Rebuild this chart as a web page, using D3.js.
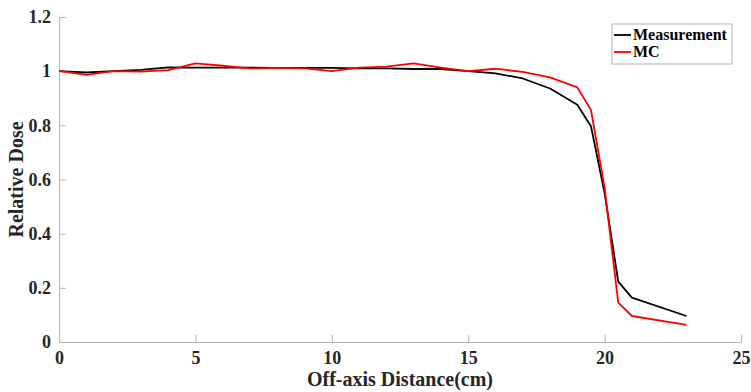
<!DOCTYPE html>
<html>
<head>
<meta charset="utf-8">
<script src="https://cdn.jsdelivr.net/npm/d3@7"></script>
<style>
  body { margin: 0; background: #fff; }
</style>
</head>
<body>
<div id="chart"></div>
<script>
// off-axis positions (cm)
const measX = [0, 1, 2, 3, 4, 5, 6, 7, 8, 9, 10, 11, 12, 13, 14, 15, 16, 17, 18, 19, 19.5, 20, 20.5, 21, 23];
const measY = [1.0, 0.995, 1.0, 1.005, 1.014, 1.013, 1.013, 1.013, 1.012, 1.012, 1.012, 1.01, 1.01, 1.008, 1.008, 1.0, 0.992, 0.973, 0.936, 0.876, 0.797, 0.55, 0.223, 0.164, 0.096];

const mcX = [0, 1, 2, 3, 4, 5, 6, 7, 8, 9, 10, 11, 12, 13, 14, 15, 16, 17, 18, 19, 19.5, 20, 20.5, 21, 23];
const mcY = [1.001, 0.986, 1.0, 0.998, 1.004, 1.029, 1.02, 1.01, 1.012, 1.01, 1.0, 1.013, 1.017, 1.029, 1.013, 1.0, 1.009, 0.997, 0.977, 0.94, 0.857, 0.57, 0.145, 0.096, 0.063];

const xTicks = [0, 5, 10, 15, 20, 25];
const yTicks = [0, 0.2, 0.4, 0.6, 0.8, 1, 1.2];

const series = [
  { name: "Measurement", color: "#000000", xs: measX, ys: measY },
  { name: "MC", color: "#ff0000", xs: mcX, ys: mcY }
];

const W = 751, H = 392;
const FONT = '"Liberation Serif", "Times New Roman", serif';

const svg = d3.select("#chart").append("svg")
  .attr("width", W)
  .attr("height", H)
  .style("font-family", FONT)
  .style("font-weight", "bold");

const x = d3.scaleLinear().domain([0, 25]).range([59, 741]);
const y = d3.scaleLinear().domain([0, 1.2]).range([342, 17]);

const axisColor = "#b3b3b3";
const labelColor = "#262626";

function styleAxis(g) {
  g.select(".domain").attr("stroke", axisColor);
  g.selectAll(".tick line").attr("stroke", axisColor);
  g.selectAll(".tick text")
    .attr("fill", labelColor)
    .style("font-family", FONT)
    .style("font-weight", "bold")
    .style("font-size", "18px");
}

// x axis
svg.append("g")
  .attr("transform", `translate(0,${y(0)})`)
  .call(d3.axisBottom(x).tickValues(xTicks).tickSizeInner(-7).tickSizeOuter(0).tickPadding(9))
  .call(styleAxis);

// y axis
svg.append("g")
  .attr("transform", `translate(${x(0)},0)`)
  .call(d3.axisLeft(y).tickValues(yTicks).tickSizeInner(-7).tickSizeOuter(0).tickPadding(8)
    .tickFormat(d => String(+d.toFixed(1))))
  .call(styleAxis);

// lines
const line = d3.line()
  .x(d => x(d[0]))
  .y(d => y(d[1]));

svg.append("g")
  .selectAll("path")
  .data(series)
  .join("path")
  .attr("fill", "none")
  .attr("stroke", d => d.color)
  .attr("stroke-width", 1.8)
  .attr("stroke-linejoin", "round")
  .attr("d", d => line(d.xs.map((v, i) => [v, d.ys[i]])));

// axis titles
svg.append("text")
  .attr("x", (x(0) + x(25)) / 2)
  .attr("y", 386)
  .attr("text-anchor", "middle")
  .attr("font-size", 20)
  .attr("fill", labelColor)
  .text("Off-axis Distance(cm)");

svg.append("text")
  .attr("transform", `translate(23,${(y(0) + y(1.2)) / 2}) rotate(-90)`)
  .attr("text-anchor", "middle")
  .attr("font-size", 20)
  .attr("fill", labelColor)
  .text("Relative Dose");

// legend
const lg = svg.append("g").attr("transform", "translate(612,24)");
lg.append("rect")
  .attr("width", 120)
  .attr("height", 40)
  .attr("fill", "#fff")
  .attr("stroke", axisColor);

series.forEach((s, i) => {
  const cy = 11 + i * 17;
  lg.append("line")
    .attr("x1", 2).attr("x2", 19)
    .attr("y1", cy).attr("y2", cy)
    .attr("stroke", s.color)
    .attr("stroke-width", 1.8);
  lg.append("text")
    .attr("x", 21)
    .attr("y", cy + 5)
    .attr("font-size", 16)
    .attr("fill", "#000")
    .text(s.name);
});
</script>
</body>
</html>
